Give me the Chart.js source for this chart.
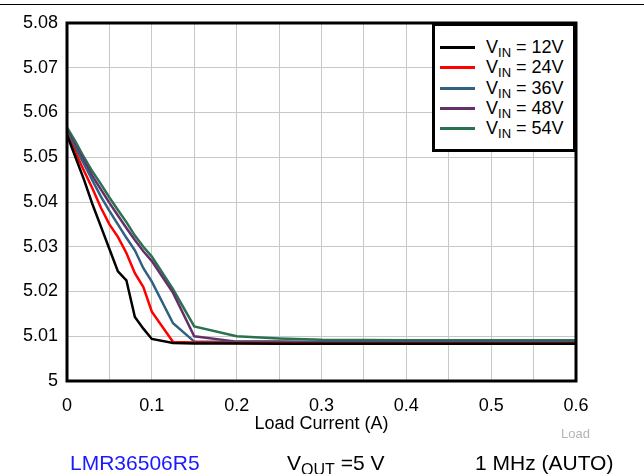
<!DOCTYPE html>
<html>
<head>
<meta charset="utf-8">
<script src="https://cdn.jsdelivr.net/npm/chart.js@4.4.1/dist/chart.umd.min.js"></script>
<style>
    html, body { margin: 0; padding: 0; background: #fff; }
    #wrap { position: relative; width: 644px; height: 474px; font-family: "Liberation Sans", Arial, sans-serif; color: #000; }
    #topRule { position: absolute; left: 0; top: 4px; width: 644px; border-top: 1.5px solid #000; }
    #chart { position: absolute; left: 0; top: 0; }
    #legend { position: absolute; left: 432px; top: 23px; width: 138px; height: 123px; border: 3px solid #000; background: #fff; }
    .row { position: absolute; left: 0; width: 138px; height: 20px; font-size: 18px; line-height: 20px; white-space: nowrap; }
    .swatch { position: absolute; left: 5px; top: 9px; width: 35px; height: 3px; }
    .lbl { position: absolute; left: 51px; top: 0; }
    sub { font-size: 13px; vertical-align: -4px; line-height: 0; }
    .foot { position: absolute; top: 450px; font-size: 21px; line-height: 26px; white-space: nowrap; }
    .foot sub { font-size: 16px; vertical-align: -5px; }
    #tag { position: absolute; right: 54px; top: 426px; font-size: 13px; color: #b4b4b4; }
</style>
</head>
<body>
<div id="wrap">
    <div id="topRule"></div>
    <canvas id="chart" width="644" height="474"></canvas>
    <div id="legend"></div>
    <div id="tag">Load</div>
    <div class="foot" style="left:70px; color:#1a1aff;">LMR36506R5</div>
    <div class="foot" style="left:287px;">V<sub>OUT</sub> =5 V</div>
    <div class="foot" style="left:475px;">1 MHz (AUTO)</div>
</div>
<script>
// Load current (A), shared by every curve
const loadCurrent = [0, 0.01, 0.02, 0.03, 0.04, 0.05, 0.06, 0.07, 0.08, 0.09, 0.1, 0.125, 0.15, 0.2, 0.25, 0.3, 0.4, 0.5, 0.6];

// Output voltage (V) per input voltage
const vin12 = [5.0550, 5.0500, 5.0450, 5.0395, 5.0345, 5.0295, 5.0245, 5.0225, 5.0143, 5.0117, 5.0094, 5.0085, 5.0084, 5.0084, 5.0083, 5.0083, 5.0083, 5.0083, 5.0083];
const vin24 = [5.0550, 5.0510, 5.0470, 5.0430, 5.0387, 5.0350, 5.0322, 5.0286, 5.0241, 5.0210, 5.0155, 5.0087, 5.0086, 5.0085, 5.0085, 5.0084, 5.0084, 5.0084, 5.0084];
const vin36 = [5.0555, 5.0520, 5.0485, 5.0448, 5.0412, 5.0380, 5.0350, 5.0320, 5.0292, 5.0252, 5.0222, 5.0129, 5.0088, 5.0087, 5.0087, 5.0086, 5.0086, 5.0086, 5.0086];
const vin48 = [5.0560, 5.0525, 5.0492, 5.0458, 5.0428, 5.0398, 5.0370, 5.0342, 5.0315, 5.0290, 5.0268, 5.0197, 5.0100, 5.0088, 5.0088, 5.0087, 5.0087, 5.0087, 5.0087];
const vin54 = [5.0567, 5.0535, 5.0500, 5.0468, 5.0440, 5.0410, 5.0382, 5.0355, 5.0325, 5.0300, 5.0278, 5.0205, 5.0122, 5.0100, 5.0095, 5.0092, 5.0091, 5.0091, 5.0091];

const seriesNames = ['12V', '24V', '36V', '48V', '54V'];
const seriesValues = [vin12, vin24, vin36, vin48, vin54];
const seriesColors = ['#000000', '#ff0000', '#2f6180', '#65306a', '#2a7150'];

// Legend (HTML so the subscripts stay real text)
const legend = document.getElementById('legend');
seriesNames.forEach((name, i) => {
    const row = document.createElement('div');
    row.className = 'row';
    row.style.top = [11, 31, 52, 72, 92][i] + 'px';
    row.innerHTML = '<span class="swatch" style="background:' + seriesColors[i] + '"></span>' +
        '<span class="lbl">V<sub>IN</sub> = ' + name + '</span>';
    legend.appendChild(row);
});

// Thick frame round the plot area
const framePlugin = {
    id: 'frame',
    afterDatasetsDraw(chart) {
        const { ctx, chartArea } = chart;
        ctx.save();
        ctx.strokeStyle = '#000';
        ctx.lineWidth = 3;
        ctx.strokeRect(chartArea.left, chartArea.top, chartArea.right - chartArea.left, chartArea.bottom - chartArea.top);
        ctx.restore();
    },
};

const ctx = document.getElementById('chart').getContext('2d');
new Chart(ctx, {
    type: 'line',
    data: {
        datasets: seriesValues.map((vals, i) => ({
            label: 'VIN = ' + seriesNames[i],
            data: loadCurrent.map((x, j) => ({ x: x, y: vals[j] })),
            borderColor: seriesColors[i],
            borderWidth: 2.5,
            pointRadius: 0,
            tension: 0,
            fill: false,
        })),
    },
    options: {
        responsive: false,
        animation: false,
        layout: { padding: { left: 0, right: 68, top: 23, bottom: 33 } },
        plugins: {
            legend: { display: false },
            tooltip: { enabled: false },
        },
        scales: {
            x: {
                type: 'linear',
                min: 0,
                max: 0.6,
                afterFit: (scale) => { scale.height = 60; },
                grid: { color: '#c8c8c8', lineWidth: 1, drawTicks: false },
                border: { display: false },
                ticks: {
                    stepSize: 0.05,
                    autoSkip: false,
                    maxRotation: 0,
                    padding: 14,
                    color: '#000',
                    font: { family: '"Liberation Sans", Arial, sans-serif', size: 18 },
                    callback: (v) => (Math.round(v * 100) % 10 === 0 ? String(Number(v.toFixed(1))) : ''),
                },
                title: {
                    display: true,
                    text: 'Load Current (A)',
                    color: '#000',
                    padding: { top: 0, bottom: 6 },
                    font: { family: '"Liberation Sans", Arial, sans-serif', size: 18 },
                },
            },
            y: {
                min: 5,
                max: 5.08,
                afterFit: (scale) => { scale.width = 67; },
                grid: { color: '#c8c8c8', lineWidth: 1, drawTicks: false },
                border: { display: false },
                ticks: {
                    stepSize: 0.01,
                    padding: 9,
                    color: '#000',
                    font: { family: '"Liberation Sans", Arial, sans-serif', size: 18 },
                    callback: (v) => String(Number(v.toFixed(2))),
                },
            },
        },
    },
    plugins: [framePlugin],
});
</script>
</body>
</html>
